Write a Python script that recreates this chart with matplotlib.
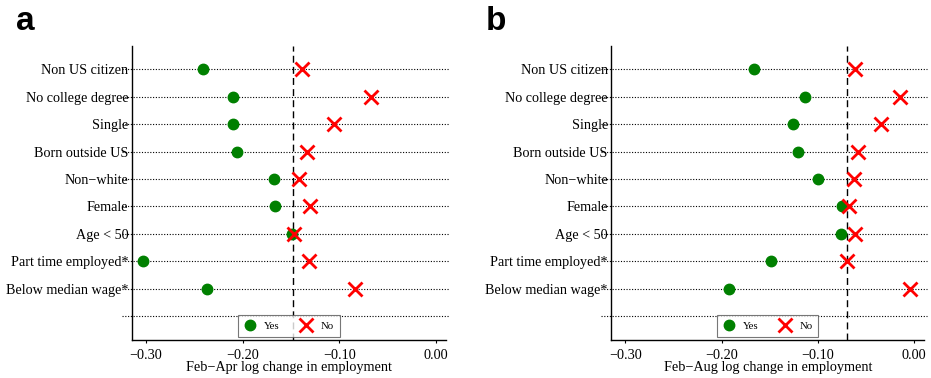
import numpy as np
import matplotlib.pyplot as plt

# Row labels, top to bottom (last row is an empty spacer)
groups = ["Non US citizen", "No college degree", "Single", "Born outside US",
          "Non\u2212white", "Female", "Age < 50", "Part time employed*",
          "Below median wage*", ""]

# Feb-Apr
apr_yes = [-0.241, -0.210, -0.2096, -0.2055, -0.167, -0.1668, -0.1486, -0.3033, -0.2368]
apr_no = [-0.1386, -0.0669, -0.105, -0.133, -0.1417, -0.130, -0.1468, -0.1313, -0.0838]
apr_avg = -0.1476

# Feb-Aug
aug_yes = [-0.1663, -0.1131, -0.1255, -0.1206, -0.0999, -0.0753, -0.076, -0.149, -0.1922]
aug_no = [-0.0615, -0.0148, -0.0342, -0.0587, -0.0629, -0.0674, -0.0618, -0.0701, -0.0045]
aug_avg = -0.0701

xticks = [-0.30, -0.20, -0.10, 0.00]

plt.rcParams['font.family'] = ['Liberation Serif', 'DejaVu Serif']

fig = plt.figure(figsize=(9.31, 3.78), dpi=100)


def panel(rect, yes, no, avg, xlabel, letter, letter_x):
    ax = fig.add_axes(rect)
    n = len(groups)
    ypos = np.arange(n, 0, -1)
    # dotted guide lines
    for y in ypos:
        ax.axhline(y, xmin=-0.032, xmax=1.01, color='black', linestyle=(0, (1, 1.5)),
                   linewidth=0.8, clip_on=False, zorder=1)
    ax.axvline(avg, color='black', linestyle=(0, (5, 3)), linewidth=1.0, zorder=2)
    ax.plot(yes, ypos[:len(yes)], 'o', color='#008000', markersize=7.5,
            linestyle='none', label='Yes', zorder=3)
    ax.plot(no, ypos[:len(no)], 'x', color='#FF0000', markersize=9.5,
            markeredgewidth=2, linestyle='none', label='No', zorder=4)
    ax.set_xlim(-0.3145, 0.0105)
    ax.set_ylim(0.12, n + 0.85)
    ax.set_yticks(ypos)
    ax.set_yticklabels(groups, fontsize=10.2)
    ax.tick_params(axis='y', length=0, pad=2.5)
    ax.set_xticks(xticks)
    ax.set_xticklabels(["\u2212%.2f" % abs(t) if t < 0 else "%.2f" % t for t in xticks],
                       fontsize=10.3)
    ax.tick_params(axis='x', length=2.5, pad=4)
    ax.set_xlabel(xlabel, fontsize=10.3, labelpad=-1)
    for s in ['top', 'right']:
        ax.spines[s].set_visible(False)
    ax.spines['left'].set_linewidth(1.0)
    ax.spines['bottom'].set_linewidth(1.0)
    leg = ax.legend(loc='lower center', ncol=2, fontsize=7.8, frameon=True,
                    fancybox=False, edgecolor='#555555', handlelength=1.0,
                    handletextpad=0.8, columnspacing=2.0, borderpad=0.55,
                    borderaxespad=0.3, bbox_to_anchor=(0.5, 0.0))
    leg.get_frame().set_linewidth(0.8)
    fig.text(letter_x, 0.921, letter, fontsize=24, fontweight='bold',
             family='Liberation Sans', va='baseline', ha='left')
    return ax


panel([0.1418, 0.1005, 0.3372, 0.7775], apr_yes, apr_no, apr_avg,
      "Feb\u2212Apr log change in employment", "a", 0.017)
panel([0.6566, 0.1005, 0.3362, 0.7775], aug_yes, aug_no, aug_avg,
      "Feb\u2212Aug log change in employment", "b", 0.522)

fig.savefig("out.png", dpi=100)
